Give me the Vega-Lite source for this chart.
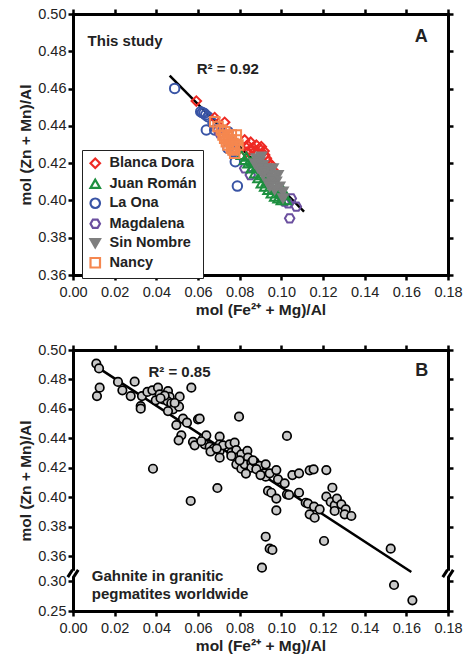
{
  "$schema": "https://vega.github.io/schema/vega-lite/v6.json",
  "padding": {"left": 18, "top": 6, "right": 4, "bottom": 4},
  "background": "white",
  "spacing": 24,
  "config": {
    "font": "Liberation Sans",
    "view": {"stroke": null},
    "axis": {
      "grid": false,
      "domainColor": "black",
      "domainWidth": 3,
      "domainCap": "square",
      "tickColor": "black",
      "tickWidth": 2.5,
      "tickSize": 5,
      "labelFont": "Liberation Sans",
      "labelFontSize": 14.5,
      "labelColor": "#222",
      "labelPadding": 2,
      "labelOverlap": false,
      "labelFlush": false,
      "titleFont": "Liberation Sans",
      "titleFontSize": 15.5,
      "titleFontWeight": "bold",
      "titleColor": "#222",
      "titlePadding": 4
    },
    "axisX": {"labelPadding": 5, "titlePadding": 4},
    "legend": {
      "labelFont": "Liberation Sans"
    }
  },
  "datasets": {
    "regA": [{"x": 0.0464, "y": 0.4669}, {"x": 0.1109, "y": 0.394}],
    "regB": [{"x": 0.012, "y": 0.488}, {"x": 0.1624, "y": 0.3216}],
    "breaks": [{"x": 0, "y": 0.318}, {"x": 0.18, "y": 0.318}],
    "pointsA": [
      {"g": "La Ona", "x": 0.0488, "y": 0.4601},
      {"g": "La Ona", "x": 0.064, "y": 0.4378},
      {"g": "La Ona", "x": 0.0779, "y": 0.4208},
      {"g": "La Ona", "x": 0.0789, "y": 0.4077},
      {"g": "La Ona", "x": 0.0621, "y": 0.4471},
      {"g": "La Ona", "x": 0.0629, "y": 0.4467},
      {"g": "La Ona", "x": 0.0637, "y": 0.4458},
      {"g": "La Ona", "x": 0.0613, "y": 0.4476},
      {"g": "La Ona", "x": 0.0648, "y": 0.4449},
      {"g": "La Ona", "x": 0.0672, "y": 0.4414},
      {"g": "La Ona", "x": 0.068, "y": 0.4378},
      {"g": "La Ona", "x": 0.0744, "y": 0.4369},
      {"g": "La Ona", "x": 0.076, "y": 0.4315},
      {"g": "La Ona", "x": 0.0768, "y": 0.4262},
      {"g": "La Ona", "x": 0.0744, "y": 0.4279},
      {"g": "Magdalena", "x": 0.0851, "y": 0.4136},
      {"g": "Magdalena", "x": 0.104, "y": 0.3904},
      {"g": "Magdalena", "x": 0.1072, "y": 0.3967},
      {"g": "Magdalena", "x": 0.1016, "y": 0.3994},
      {"g": "Magdalena", "x": 0.1032, "y": 0.3984},
      {"g": "Magdalena", "x": 0.1, "y": 0.402},
      {"g": "Magdalena", "x": 0.0704, "y": 0.436},
      {"g": "Magdalena", "x": 0.0696, "y": 0.4378},
      {"g": "Magdalena", "x": 0.0824, "y": 0.4172},
      {"g": "Magdalena", "x": 0.1048, "y": 0.4011},
      {"g": "Magdalena", "x": 0.0984, "y": 0.4038},
      {"g": "Blanca Dora", "x": 0.0592, "y": 0.4533},
      {"g": "Blanca Dora", "x": 0.068, "y": 0.4444},
      {"g": "Blanca Dora", "x": 0.0728, "y": 0.4419},
      {"g": "Blanca Dora", "x": 0.0824, "y": 0.4324},
      {"g": "Blanca Dora", "x": 0.0837, "y": 0.4297},
      {"g": "Blanca Dora", "x": 0.0853, "y": 0.4312},
      {"g": "Blanca Dora", "x": 0.0864, "y": 0.4283},
      {"g": "Blanca Dora", "x": 0.088, "y": 0.4297},
      {"g": "Blanca Dora", "x": 0.0896, "y": 0.4279},
      {"g": "Blanca Dora", "x": 0.0904, "y": 0.4288},
      {"g": "Blanca Dora", "x": 0.0917, "y": 0.4265},
      {"g": "Blanca Dora", "x": 0.0872, "y": 0.4262},
      {"g": "Blanca Dora", "x": 0.0848, "y": 0.427},
      {"g": "Blanca Dora", "x": 0.0832, "y": 0.4258},
      {"g": "Blanca Dora", "x": 0.0936, "y": 0.4208},
      {"g": "Blanca Dora", "x": 0.0952, "y": 0.419},
      {"g": "Blanca Dora", "x": 0.0968, "y": 0.4154},
      {"g": "Blanca Dora", "x": 0.092, "y": 0.4244},
      {"g": "Blanca Dora", "x": 0.0888, "y": 0.4253},
      {"g": "Blanca Dora", "x": 0.0928, "y": 0.4226},
      {"g": "Juan Román", "x": 0.0808, "y": 0.4244},
      {"g": "Juan Román", "x": 0.0824, "y": 0.4217},
      {"g": "Juan Román", "x": 0.084, "y": 0.4199},
      {"g": "Juan Román", "x": 0.0856, "y": 0.4172},
      {"g": "Juan Román", "x": 0.0872, "y": 0.4145},
      {"g": "Juan Román", "x": 0.0888, "y": 0.4119},
      {"g": "Juan Román", "x": 0.0904, "y": 0.4092},
      {"g": "Juan Román", "x": 0.092, "y": 0.4074},
      {"g": "Juan Román", "x": 0.0936, "y": 0.4056},
      {"g": "Juan Román", "x": 0.0952, "y": 0.4038},
      {"g": "Juan Román", "x": 0.0968, "y": 0.402},
      {"g": "Juan Román", "x": 0.0984, "y": 0.4011},
      {"g": "Juan Román", "x": 0.1, "y": 0.4002},
      {"g": "Juan Román", "x": 0.1016, "y": 0.4029},
      {"g": "Juan Román", "x": 0.1024, "y": 0.4002},
      {"g": "Juan Román", "x": 0.0992, "y": 0.4047},
      {"g": "Juan Román", "x": 0.096, "y": 0.4065},
      {"g": "Juan Román", "x": 0.0928, "y": 0.4101},
      {"g": "Juan Román", "x": 0.0904, "y": 0.4136},
      {"g": "Juan Román", "x": 0.088, "y": 0.4181},
      {"g": "Juan Román", "x": 0.0856, "y": 0.4208},
      {"g": "Juan Román", "x": 0.0832, "y": 0.4235},
      {"g": "Juan Román", "x": 0.1008, "y": 0.4056},
      {"g": "Sin Nombre", "x": 0.088, "y": 0.4226},
      {"g": "Sin Nombre", "x": 0.0896, "y": 0.4208},
      {"g": "Sin Nombre", "x": 0.0912, "y": 0.419},
      {"g": "Sin Nombre", "x": 0.0928, "y": 0.4172},
      {"g": "Sin Nombre", "x": 0.0944, "y": 0.4145},
      {"g": "Sin Nombre", "x": 0.096, "y": 0.4119},
      {"g": "Sin Nombre", "x": 0.0976, "y": 0.4101},
      {"g": "Sin Nombre", "x": 0.0992, "y": 0.4074},
      {"g": "Sin Nombre", "x": 0.1008, "y": 0.4047},
      {"g": "Sin Nombre", "x": 0.1008, "y": 0.4011},
      {"g": "Sin Nombre", "x": 0.0968, "y": 0.4056},
      {"g": "Sin Nombre", "x": 0.0936, "y": 0.4092},
      {"g": "Sin Nombre", "x": 0.0912, "y": 0.4136},
      {"g": "Sin Nombre", "x": 0.0888, "y": 0.4172},
      {"g": "Sin Nombre", "x": 0.0872, "y": 0.4199},
      {"g": "Sin Nombre", "x": 0.092, "y": 0.4154},
      {"g": "Sin Nombre", "x": 0.0952, "y": 0.411},
      {"g": "Sin Nombre", "x": 0.0984, "y": 0.4136},
      {"g": "Sin Nombre", "x": 0.0904, "y": 0.4235},
      {"g": "Sin Nombre", "x": 0.096, "y": 0.4172},
      {"g": "Sin Nombre", "x": 0.0944, "y": 0.4074},
      {"g": "Nancy", "x": 0.068, "y": 0.4422},
      {"g": "Nancy", "x": 0.0712, "y": 0.4378},
      {"g": "Nancy", "x": 0.072, "y": 0.4351},
      {"g": "Nancy", "x": 0.0728, "y": 0.4369},
      {"g": "Nancy", "x": 0.0744, "y": 0.4342},
      {"g": "Nancy", "x": 0.0752, "y": 0.4324},
      {"g": "Nancy", "x": 0.076, "y": 0.4351},
      {"g": "Nancy", "x": 0.0768, "y": 0.4306},
      {"g": "Nancy", "x": 0.0776, "y": 0.4288},
      {"g": "Nancy", "x": 0.0768, "y": 0.4271},
      {"g": "Nancy", "x": 0.0776, "y": 0.4253},
      {"g": "Nancy", "x": 0.076, "y": 0.428},
      {"g": "Nancy", "x": 0.0736, "y": 0.4315},
      {"g": "Nancy", "x": 0.0784, "y": 0.4324},
      {"g": "Nancy", "x": 0.0792, "y": 0.4297},
      {"g": "Nancy", "x": 0.0744, "y": 0.4297},
      {"g": "Nancy", "x": 0.0728, "y": 0.4333},
      {"g": "Nancy", "x": 0.0784, "y": 0.4351},
      {"g": "Nancy", "x": 0.0696, "y": 0.4396}
    ],
    "pointsB": [
      {"x": 0.0112, "y": 0.4907}, {"x": 0.0125, "y": 0.4875}, {"x": 0.0128, "y": 0.4744}, {"x": 0.0115, "y": 0.4687},
      {"x": 0.0216, "y": 0.4783}, {"x": 0.0296, "y": 0.4785}, {"x": 0.0237, "y": 0.4726}, {"x": 0.0277, "y": 0.4687},
      {"x": 0.0331, "y": 0.4687}, {"x": 0.0325, "y": 0.4619}, {"x": 0.0325, "y": 0.4601}, {"x": 0.0357, "y": 0.4715},
      {"x": 0.0381, "y": 0.4726}, {"x": 0.0408, "y": 0.4744}, {"x": 0.0416, "y": 0.4699}, {"x": 0.0397, "y": 0.4658},
      {"x": 0.0432, "y": 0.4665}, {"x": 0.0456, "y": 0.4721}, {"x": 0.0464, "y": 0.4681}, {"x": 0.0453, "y": 0.4653},
      {"x": 0.0472, "y": 0.4638}, {"x": 0.048, "y": 0.4597}, {"x": 0.0456, "y": 0.4585}, {"x": 0.0512, "y": 0.4683},
      {"x": 0.0509, "y": 0.4615}, {"x": 0.0568, "y": 0.4744}, {"x": 0.0528, "y": 0.4533}, {"x": 0.0547, "y": 0.4506},
      {"x": 0.0496, "y": 0.449}, {"x": 0.052, "y": 0.442}, {"x": 0.0507, "y": 0.4386}, {"x": 0.06, "y": 0.4529},
      {"x": 0.0608, "y": 0.4533}, {"x": 0.0576, "y": 0.4375}, {"x": 0.0584, "y": 0.4352}, {"x": 0.0624, "y": 0.4397},
      {"x": 0.064, "y": 0.442}, {"x": 0.0632, "y": 0.4359}, {"x": 0.0656, "y": 0.4343}, {"x": 0.0675, "y": 0.4329},
      {"x": 0.0704, "y": 0.4411}, {"x": 0.0704, "y": 0.4359}, {"x": 0.0704, "y": 0.4314}, {"x": 0.0704, "y": 0.4268},
      {"x": 0.072, "y": 0.4352}, {"x": 0.0752, "y": 0.4359}, {"x": 0.0776, "y": 0.437}, {"x": 0.076, "y": 0.4302},
      {"x": 0.0784, "y": 0.432}, {"x": 0.0784, "y": 0.4268}, {"x": 0.0808, "y": 0.4291}, {"x": 0.0837, "y": 0.4314},
      {"x": 0.084, "y": 0.4268}, {"x": 0.0784, "y": 0.4223}, {"x": 0.0808, "y": 0.4193}, {"x": 0.0824, "y": 0.4223},
      {"x": 0.0856, "y": 0.4234}, {"x": 0.0856, "y": 0.42}, {"x": 0.0872, "y": 0.4239}, {"x": 0.0896, "y": 0.4212},
      {"x": 0.0925, "y": 0.4223}, {"x": 0.092, "y": 0.4162}, {"x": 0.0925, "y": 0.4139}, {"x": 0.0944, "y": 0.4162},
      {"x": 0.0976, "y": 0.4184}, {"x": 0.0984, "y": 0.4121}, {"x": 0.1016, "y": 0.4094}, {"x": 0.0936, "y": 0.4042},
      {"x": 0.0952, "y": 0.403}, {"x": 0.0976, "y": 0.399}, {"x": 0.0976, "y": 0.391}, {"x": 0.1027, "y": 0.4019},
      {"x": 0.1037, "y": 0.4015}, {"x": 0.1053, "y": 0.415}, {"x": 0.1085, "y": 0.4162}, {"x": 0.1085, "y": 0.403},
      {"x": 0.1117, "y": 0.3962}, {"x": 0.1128, "y": 0.3956}, {"x": 0.1136, "y": 0.4182}, {"x": 0.1155, "y": 0.4189},
      {"x": 0.1136, "y": 0.3883}, {"x": 0.1157, "y": 0.3935}, {"x": 0.116, "y": 0.386}, {"x": 0.1184, "y": 0.3917},
      {"x": 0.1216, "y": 0.4184}, {"x": 0.1216, "y": 0.4003}, {"x": 0.1245, "y": 0.4064}, {"x": 0.1237, "y": 0.3967},
      {"x": 0.1256, "y": 0.3944}, {"x": 0.1267, "y": 0.399}, {"x": 0.1256, "y": 0.3906}, {"x": 0.1288, "y": 0.3951},
      {"x": 0.1309, "y": 0.3917}, {"x": 0.1304, "y": 0.3883}, {"x": 0.1336, "y": 0.3872}, {"x": 0.1205, "y": 0.3702},
      {"x": 0.0797, "y": 0.4547}, {"x": 0.1027, "y": 0.4416}, {"x": 0.0384, "y": 0.4193}, {"x": 0.0693, "y": 0.4062},
      {"x": 0.0565, "y": 0.3974}, {"x": 0.0925, "y": 0.3731}, {"x": 0.0944, "y": 0.365}, {"x": 0.0957, "y": 0.3641},
      {"x": 0.0907, "y": 0.332}, {"x": 0.1525, "y": 0.365}, {"x": 0.1541, "y": 0.2933}, {"x": 0.1629, "y": 0.2678},
      {"x": 0.044, "y": 0.469}, {"x": 0.042, "y": 0.4672}, {"x": 0.0488, "y": 0.464}, {"x": 0.0864, "y": 0.425},
      {"x": 0.088, "y": 0.419}, {"x": 0.08, "y": 0.425}, {"x": 0.076, "y": 0.428}, {"x": 0.066, "y": 0.431},
      {"x": 0.0616, "y": 0.438}, {"x": 0.069, "y": 0.433}, {"x": 0.083, "y": 0.416}, {"x": 0.09, "y": 0.415}
    ],
    "labelsA": [
      {"x": 0.007, "y": 0.4855, "t": "This study"},
      {"x": 0.0594, "y": 0.4705, "t": "R² = 0.92"}
    ],
    "panelA": [{"x": 0.1671, "y": 0.4875, "t": "A"}],
    "labelsB": [
      {"x": 0.0362, "y": 0.4848, "t": "R² = 0.85"},
      {"x": 0.009, "y": 0.3113, "t": "Gahnite in granitic"},
      {"x": 0.009, "y": 0.279, "t": "pegmatites worldwide"}
    ],
    "panelB": [{"x": 0.1674, "y": 0.4859, "t": "B"}]
  },
  "vconcat": [
    {
      "width": 375,
      "height": 261,
      "layer": [
        {
          "data": {"name": "regA"},
          "mark": {"type": "line", "color": "black", "strokeWidth": 2.5},
          "encoding": {
            "x": {"field": "x", "type": "quantitative", "scale": {"domain": [0, 0.18], "nice": false, "zero": false},
                  "axis": {"orient": "bottom", "values": [0, 0.02, 0.04, 0.06, 0.08, 0.1, 0.12, 0.14, 0.16, 0.18], "format": ".2f", "title": "mol (Fe²⁺ + Mg)/Al"}},
            "y": {"field": "y", "type": "quantitative", "scale": {"domain": [0.36, 0.5], "nice": false, "zero": false},
                  "axis": {"orient": "left", "values": [0.36, 0.38, 0.4, 0.42, 0.44, 0.46, 0.48, 0.5], "format": ".2f", "title": "mol (Zn + Mn)/Al"}}
          }
        },
        {
          "data": {"name": "regA"},
          "mark": {"type": "line", "opacity": 0},
          "encoding": {
            "x": {"field": "x", "type": "quantitative", "axis": {"orient": "top", "values": [0, 0.02, 0.04, 0.06, 0.08, 0.1, 0.12, 0.14, 0.16, 0.18], "labels": false, "title": null}},
            "y": {"field": "y", "type": "quantitative", "axis": {"orient": "right", "values": [0.36, 0.38, 0.4, 0.42, 0.44, 0.46, 0.48, 0.5], "labels": false, "title": null}}
          }
        },
        {
          "data": {"name": "pointsA"},
          "mark": {"type": "point", "strokeWidth": 2, "opacity": 1, "size": 90},
          "encoding": {
            "x": {"field": "x", "type": "quantitative", "axis": null},
            "y": {"field": "y", "type": "quantitative", "axis": null},
            "shape": {"field": "g", "type": "nominal",
              "scale": {"domain": ["Blanca Dora", "Juan Román", "La Ona", "Magdalena", "Sin Nombre", "Nancy"],
                        "range": ["diamond", "triangle-up", "circle", "M -1 0 L -0.5 -0.866 L 0.5 -0.866 L 1 0 L 0.5 0.866 L -0.5 0.866 Z", "triangle-down", "square"]},
              "legend": {"title": null, "orient": "none", "legendX": 9, "legendY": 136, "strokeColor": "#222", "padding": 6, "labelFontSize": 14.5, "labelFontWeight": "bold", "labelColor": "#222", "symbolSize": 90, "symbolStrokeWidth": 2.2, "rowPadding": 1.5, "labelOffset": 7, "fillColor": "white"}},
            "stroke": {"field": "g", "type": "nominal",
              "scale": {"domain": ["Blanca Dora", "Juan Román", "La Ona", "Magdalena", "Sin Nombre", "Nancy"],
                        "range": ["#ee2a24", "#1d8f3f", "#3954a5", "#6b4f9f", "#7f7f7f", "#f5874f"]},
              "legend": {"title": null, "orient": "none", "legendX": 9, "legendY": 136, "strokeColor": "#222", "padding": 6, "labelFontSize": 14.5, "labelFontWeight": "bold", "labelColor": "#222", "symbolSize": 90, "symbolStrokeWidth": 2.2, "rowPadding": 1.5, "labelOffset": 7, "fillColor": "white"}},
            "fill": {"field": "g", "type": "nominal",
              "scale": {"domain": ["Blanca Dora", "Juan Román", "La Ona", "Magdalena", "Sin Nombre", "Nancy"],
                        "range": ["transparent", "transparent", "transparent", "transparent", "#7f7f7f", "transparent"]},
              "legend": {"title": null, "orient": "none", "legendX": 9, "legendY": 136, "strokeColor": "#222", "padding": 6, "labelFontSize": 14.5, "labelFontWeight": "bold", "labelColor": "#222", "symbolSize": 90, "symbolStrokeWidth": 2.2, "rowPadding": 1.5, "labelOffset": 7, "fillColor": "white"}}
          }
        },
        {
          "data": {"name": "labelsA"},
          "mark": {"type": "text", "align": "left", "baseline": "middle", "fontSize": 15, "fontWeight": "bold", "color": "#222"},
          "encoding": {
            "x": {"field": "x", "type": "quantitative", "axis": null},
            "y": {"field": "y", "type": "quantitative", "axis": null},
            "text": {"field": "t"}
          }
        },
        {
          "data": {"name": "panelA"},
          "mark": {"type": "text", "align": "center", "baseline": "middle", "fontSize": 18, "fontWeight": "bold", "color": "#222"},
          "encoding": {
            "x": {"field": "x", "type": "quantitative", "axis": null},
            "y": {"field": "y", "type": "quantitative", "axis": null},
            "text": {"field": "t"}
          }
        }
      ],
      "resolve": {"axis": {"x": "independent", "y": "independent"}}
    },
    {
      "width": 375,
      "height": 261,
      "layer": [
        {
          "data": {"name": "regB"},
          "mark": {"type": "line", "color": "black", "strokeWidth": 2.5},
          "encoding": {
            "x": {"field": "x", "type": "quantitative", "scale": {"domain": [0, 0.18], "nice": false, "zero": false},
                  "axis": {"orient": "bottom", "values": [0, 0.02, 0.04, 0.06, 0.08, 0.1, 0.12, 0.14, 0.16, 0.18], "format": ".2f", "title": "mol (Fe²⁺ + Mg)/Al"}},
            "y": {"field": "y", "type": "quantitative", "scale": {"domain": [0.25, 0.3, 0.36, 0.5], "range": [261, 231, 206, 0], "nice": false, "zero": false},
                  "axis": {"orient": "left", "values": [0.25, 0.3, 0.36, 0.38, 0.4, 0.42, 0.44, 0.46, 0.48, 0.5], "format": ".2f", "title": "mol (Zn + Mn)/Al"}}
          }
        },
        {
          "data": {"name": "regB"},
          "mark": {"type": "line", "opacity": 0},
          "encoding": {
            "x": {"field": "x", "type": "quantitative", "axis": {"orient": "top", "values": [0, 0.02, 0.04, 0.06, 0.08, 0.1, 0.12, 0.14, 0.16, 0.18], "labels": false, "title": null}},
            "y": {"field": "y", "type": "quantitative", "axis": {"orient": "right", "values": [0.25, 0.3, 0.36, 0.38, 0.4, 0.42, 0.44, 0.46, 0.48, 0.5], "labels": false, "title": null}}
          }
        },
        {
          "data": {"name": "pointsB"},
          "mark": {"type": "point", "filled": true, "fill": "#c9c9c9", "stroke": "black", "strokeWidth": 1.7, "opacity": 1, "size": 72},
          "encoding": {
            "x": {"field": "x", "type": "quantitative", "axis": null},
            "y": {"field": "y", "type": "quantitative", "axis": null}
          }
        },
        {
          "data": {"name": "breaks"},
          "mark": {"type": "point", "shape": "square", "filled": true, "fill": "white", "strokeWidth": 0, "size": 30, "opacity": 1},
          "encoding": {
            "x": {"field": "x", "type": "quantitative", "axis": null},
            "y": {"field": "y", "type": "quantitative", "axis": null}
          }
        },
        {
          "data": {"name": "breaks"},
          "mark": {"type": "point", "shape": "M -1 0.7 L -0.1 -0.7 M 0.1 0.7 L 1 -0.7", "filled": false, "stroke": "black", "strokeWidth": 3, "size": 110, "opacity": 1},
          "encoding": {
            "x": {"field": "x", "type": "quantitative", "axis": null},
            "y": {"field": "y", "type": "quantitative", "axis": null}
          }
        },
        {
          "data": {"name": "labelsB"},
          "mark": {"type": "text", "align": "left", "baseline": "middle", "fontSize": 15, "fontWeight": "bold", "color": "#222"},
          "encoding": {
            "x": {"field": "x", "type": "quantitative", "axis": null},
            "y": {"field": "y", "type": "quantitative", "axis": null},
            "text": {"field": "t"}
          }
        },
        {
          "data": {"name": "panelB"},
          "mark": {"type": "text", "align": "center", "baseline": "middle", "fontSize": 18, "fontWeight": "bold", "color": "#222"},
          "encoding": {
            "x": {"field": "x", "type": "quantitative", "axis": null},
            "y": {"field": "y", "type": "quantitative", "axis": null},
            "text": {"field": "t"}
          }
        }
      ],
      "resolve": {"axis": {"x": "independent", "y": "independent"}}
    }
  ]
}
